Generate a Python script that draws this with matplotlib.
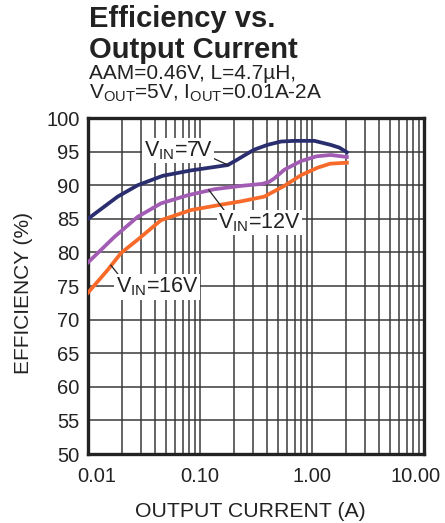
import numpy as np
import matplotlib.pyplot as plt
from matplotlib.ticker import LogLocator, NullFormatter

plt.rcParams['font.family'] = ['Liberation Sans', 'DejaVu Sans']
plt.rcParams['mathtext.default'] = 'regular'

# data
i_7v = [0.01, 0.0184, 0.0278, 0.0465, 0.083, 0.177, 0.21, 0.284, 0.306, 0.4, 0.53, 0.7, 1.05, 1.47, 1.75, 2.05]
e_7v = [85.0, 88.3, 90.0, 91.4, 92.2, 93.0, 93.7, 95.0, 95.3, 96.0, 96.5, 96.6, 96.6, 96.0, 95.6, 94.9]

i_12v = [0.01, 0.0172, 0.0278, 0.0449, 0.0775, 0.134, 0.233, 0.36, 0.415, 0.46, 0.566, 0.8, 1.1, 1.47, 2.05]
e_12v = [78.5, 82.3, 85.3, 87.3, 88.5, 89.4, 89.9, 90.2, 90.5, 91.0, 92.3, 93.6, 94.3, 94.5, 94.2]

i_16v = [0.01, 0.015, 0.0197, 0.0278, 0.0449, 0.083, 0.154, 0.233, 0.375, 0.566, 0.8, 1.12, 1.45, 2.05]
e_16v = [74.0, 77.4, 79.9, 81.9, 84.8, 86.3, 87.1, 87.6, 88.3, 89.9, 91.5, 92.6, 93.2, 93.35]

x_ticks = [0.01, 0.1, 1, 10]
x_labels = ['0.01', '0.10', '1.00', '10.00']
y_ticks = list(range(50, 101, 5))

c_7v = '#2a2d6e'
c_12v = '#a25cb4'
c_16v = '#f86a2a'
txt = '#222222'

fig = plt.figure(figsize=(4.45, 5.23), dpi=100)
ax = fig.add_axes([88/445, 1-454/523, (424-88)/445, (454-118)/523])

ax.set_xscale('log')
ax.set_xlim(0.01, 10)
ax.set_ylim(50, 100)
ax.set_xticks(x_ticks)
ax.xaxis.set_minor_locator(LogLocator(base=10, subs=np.arange(2, 10), numticks=10))
ax.xaxis.set_minor_formatter(NullFormatter())
ax.set_xticklabels([])
ax.set_yticks(y_ticks)
ax.tick_params(which='both', length=0)
ax.tick_params(axis='y', labelsize=14.5, pad=6, colors=txt)

ax.grid(True, which='both', axis='x', color='#3a3a3a', lw=1.1)
ax.grid(True, which='major', axis='y', color='#3a3a3a', lw=1.1)
for s in ax.spines.values():
    s.set_linewidth(2.4)
    s.set_color(txt)

ax.plot(i_7v, e_7v, color=c_7v, lw=2.7, zorder=3)
ax.plot(i_12v, e_12v, color=c_12v, lw=2.7, zorder=3)
ax.plot(i_16v, e_16v, color=c_16v, lw=2.7, zorder=3)

# x tick labels placed by hand (first and last nudged inward like the original)
offs = [9, 0, 0, -8]
for xv, lab, dx in zip(x_ticks, x_labels, offs):
    ax.annotate(lab, xy=(xv, 0), xycoords=('data', 'axes fraction'),
                xytext=(dx, -13), textcoords='offset pixels',
                ha='center', va='top', fontsize=14.5, color=txt)

# curve labels with leader lines
box = dict(facecolor='white', edgecolor='none', pad=1.0)
ax.plot([0.113, 0.178], [94.5, 93.0], color=txt, lw=0.9, zorder=4)
ax.text(0.0636, 95.2, '$V_{IN}$=7V', fontsize=15.5, ha='center', va='center',
        bbox=box, zorder=5, color=txt)
ax.plot([0.12, 0.164], [89.3, 86.3], color=txt, lw=0.9, zorder=4)
ax.text(0.34, 84.4, '$V_{IN}$=12V', fontsize=15.5, ha='center', va='center',
        bbox=box, zorder=5, color=txt)
ax.plot([0.016, 0.0197], [78.1, 76.2], color=txt, lw=0.9, zorder=4)
ax.text(0.0413, 74.85, '$V_{IN}$=16V', fontsize=15.5, ha='center', va='center',
        bbox=box, zorder=5, color=txt)

ax.set_ylabel('EFFICIENCY (%)', fontsize=15, color=txt)
ax.yaxis.set_label_coords(-(88-33)/(424-88), 0.48)
fig.text(250/445, 1-517/523, 'OUTPUT CURRENT (A)', fontsize=15.3, ha='center',
         va='baseline', color=txt)

# title block
fig.text(89/445, 1-27/523, 'Efficiency vs.', fontsize=21, fontweight='bold',
         va='baseline', ha='left', color=txt)
fig.text(89/445, 1-58/523, 'Output Current', fontsize=21, fontweight='bold',
         va='baseline', ha='left', color=txt)
fig.text(89/445, 1-79/523, 'AAM=0.46V, L=4.7µH,', fontsize=15,
         va='baseline', ha='left', color=txt)
fig.text(89/445, 1-99/523, '$V_{OUT}$=5V, $I_{OUT}$=0.01A-2A', fontsize=15,
         va='baseline', ha='left', color=txt)

fig.savefig('out.png', dpi=100)
